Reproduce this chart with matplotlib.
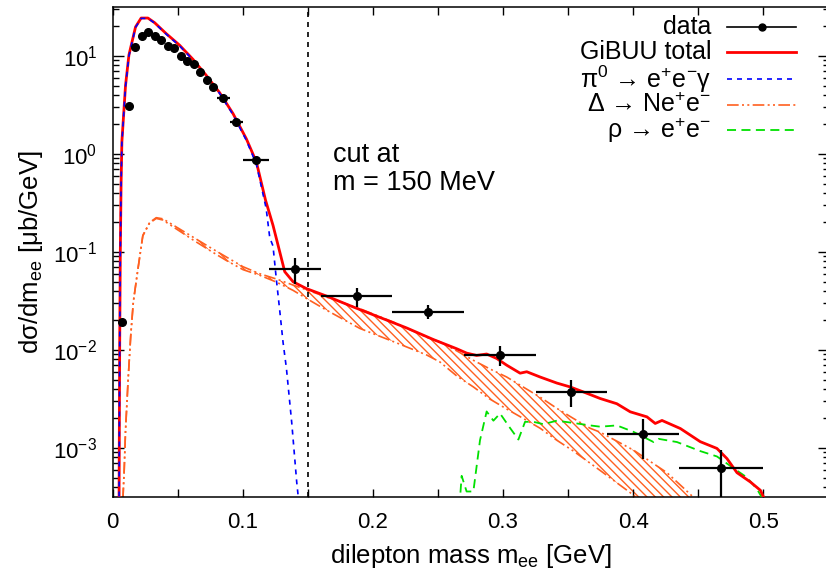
import numpy as np
import matplotlib
matplotlib.use("Agg")
import matplotlib.pyplot as plt
from matplotlib.ticker import MultipleLocator, LogLocator, LogFormatterMathtext, NullFormatter, FuncFormatter
from matplotlib.lines import Line2D

plt.rcParams['font.family'] = ['Liberation Sans', 'DejaVu Sans']
plt.rcParams['mathtext.default'] = 'regular'
plt.rcParams['hatch.linewidth'] = 1.0

# ---- measured spectrum ----
data_m = [0.0075, 0.0125, 0.0175, 0.0225, 0.0275, 0.0325, 0.0375, 0.0425, 0.0475,
          0.0525, 0.0575, 0.0625, 0.0675, 0.0725, 0.0775, 0.085, 0.095, 0.110,
          0.140, 0.1875, 0.2425, 0.2975, 0.3525, 0.4075, 0.4675]
data_y = [0.0194, 3.07, 12.4, 16.1, 17.6, 16.1, 14.7, 12.6, 12.0,
          10.1, 8.9, 8.3, 6.9, 5.65, 4.83, 3.76, 2.12, 0.863,
          0.0676, 0.0353, 0.0244, 0.00896, 0.00376, 0.00139, 0.00063]
data_xerr = [0.0025] * 15 + [0.005, 0.005, 0.010, 0.020, 0.0275, 0.0275, 0.0275, 0.0275, 0.0275, 0.0325]
data_yerr_lo = [0.0] * 18 + [0.0201, 0.0080, 0.0038, 0.0021, 0.00114, 0.00062, 0.00040]
data_yerr_hi = [0.0] * 18 + [0.0193, 0.0077, 0.0046, 0.0019, 0.00115, 0.00060, 0.00032]

# ---- GiBUU total ----
tot_m = [0.0050, 0.0055, 0.0060, 0.0066, 0.0072, 0.0100, 0.0126, 0.0177, 0.0220, 0.0272,
         0.0323, 0.0413, 0.0515, 0.0618, 0.0720, 0.0823, 0.0926, 0.1028, 0.1105, 0.1175,
         0.1233, 0.1285, 0.1323, 0.1387, 0.1490, 0.1644, 0.1849, 0.2054, 0.2259, 0.2464,
         0.2644, 0.2720, 0.2797, 0.2874, 0.2951, 0.3028, 0.3131, 0.3182, 0.3285, 0.3413,
         0.3515, 0.3618, 0.3746, 0.3874, 0.3977, 0.4105, 0.4169, 0.4221, 0.4362, 0.4515,
         0.4643, 0.4720, 0.4797, 0.4900, 0.4977, 0.5030]
tot_y = [2.0e-4, 0.01, 0.10, 0.50, 1.33, 5.0, 10.2, 19.8, 24.4, 24.4,
         21.9, 16.9, 12.9, 9.25, 6.35, 4.22, 2.58, 1.43, 0.83, 0.34,
         0.187, 0.100, 0.063, 0.0497, 0.0423, 0.0355, 0.0275, 0.0215, 0.0168, 0.0128,
         0.0103, 0.0093, 0.0088, 0.0091, 0.0082, 0.0070, 0.0058, 0.0060, 0.0053, 0.0046,
         0.0042, 0.00373, 0.0032, 0.00283, 0.00234, 0.00208, 0.00178, 0.00191, 0.00158, 0.00116,
         0.00099, 0.00078, 0.00056, 0.00045, 0.00037, 0.00026]

# ---- pi0 Dalitz ----
pi0_m = [0.0050, 0.0055, 0.0060, 0.0066, 0.0072, 0.0100, 0.0126, 0.0177, 0.0220, 0.0272,
         0.0323, 0.0413, 0.0515, 0.0618, 0.0720, 0.0823, 0.0926, 0.1028, 0.1105, 0.1180,
         0.1208, 0.1233, 0.1259, 0.1285, 0.1310, 0.1336, 0.1377, 0.1415, 0.1435]
pi0_y = [2.0e-4, 0.01, 0.10, 0.50, 1.30, 4.9, 10.0, 19.6, 24.2, 24.2,
         21.7, 16.7, 12.7, 9.1, 6.25, 4.15, 2.52, 1.38, 0.79, 0.28,
         0.14, 0.115, 0.052, 0.025, 0.012, 0.0065, 0.0018, 4.5e-4, 2.5e-4]

# ---- Delta Dalitz band (upper / lower) ----
dlt_m = [0.0080, 0.0090, 0.0100, 0.0120, 0.0140, 0.0160, 0.0195, 0.0233, 0.0285, 0.0336,
         0.0387, 0.0490, 0.0618, 0.0746, 0.0874, 0.1003, 0.1131, 0.1259, 0.1387, 0.1515,
         0.1644, 0.1900, 0.2156, 0.2413, 0.2515, 0.2644, 0.2772, 0.2900, 0.3028, 0.3156,
         0.3285, 0.3413, 0.3541, 0.3669, 0.3746, 0.4003, 0.4130, 0.4259, 0.4387, 0.4490]
dlt_hi = [3.0e-4, 6.0e-4, 1.5e-3, 5.0e-3, 0.014, 0.031, 0.067, 0.148, 0.200, 0.224,
          0.218, 0.180, 0.142, 0.112, 0.089, 0.0707, 0.060, 0.053, 0.046, 0.040,
          0.0347, 0.0264, 0.0193, 0.0135, 0.0121, 0.0098, 0.00785, 0.0064, 0.0053, 0.00418,
          0.0033, 0.00254, 0.0020, 0.00159, 0.00145, 9.5e-4, 7.3e-4, 5.6e-4, 3.9e-4, 2.9e-4]
dlt_lo = [3.0e-4, 6.0e-4, 1.5e-3, 5.0e-3, 0.014, 0.031, 0.066, 0.146, 0.197, 0.220,
          0.212, 0.172, 0.133, 0.104, 0.082, 0.066, 0.0579, 0.0493, 0.0406, 0.0321,
          0.0255, 0.0166, 0.0122, 0.0089, 0.00755, 0.00544, 0.0042, 0.00315, 0.0025, 0.0020,
          0.00159, 0.0012, 9.3e-4, 7.0e-4, 5.9e-4, 3.3e-4, 2.3e-4, 1.6e-4, 1.1e-4, 8.0e-5]

# ---- rho ----
rho_m = [0.2665, 0.2682, 0.2720, 0.2772, 0.2823, 0.2874, 0.2926, 0.2977, 0.3054, 0.3118,
         0.3169, 0.3233, 0.3310, 0.3413, 0.3541, 0.3669, 0.3746, 0.3874, 0.4003, 0.4156,
         0.4195, 0.4336, 0.4515, 0.4643, 0.4772, 0.4874, 0.4951, 0.5003]
rho_y = [2.5e-4, 5.2e-4, 3.6e-4, 3.6e-4, 1.2e-3, 2.36e-3, 1.9e-3, 2.25e-3, 1.6e-3, 1.22e-3,
         1.85e-3, 1.85e-3, 1.75e-3, 1.9e-3, 1.8e-3, 1.7e-3, 1.65e-3, 1.7e-3, 1.46e-3, 1.15e-3,
         1.24e-3, 1.15e-3, 9.3e-4, 8.2e-4, 6.2e-4, 5.0e-4, 3.8e-4, 2.9e-4]

m_cut = 0.150

RED = '#ff0000'
BLUE = '#0000ff'
ORANGE = '#ff6020'
GREEN = '#00e000'

W, H = 826, 578
fig = plt.figure(figsize=(W / 100, H / 100), dpi=100)
ax = fig.add_axes([112.5 / W, 1 - 497 / H, (828.5 - 112.5) / W, (497 - 7) / H])

ax.set_yscale('log')
ax.set_xlim(0, 0.55)
ax.set_ylim(10 ** -3.5, 10 ** 1.5)

# Delta band with hatching
ax.fill_between(dlt_m, dlt_lo, dlt_hi, facecolor='none', edgecolor=ORANGE,
                hatch='\\\\\\\\', linewidth=0, zorder=1)
dd = (0, (7, 2, 1.2, 2, 1.2, 2))
ax.plot(dlt_m, dlt_hi, color=ORANGE, lw=1.2, linestyle=dd, zorder=2)
ax.plot(dlt_m, dlt_lo, color=ORANGE, lw=1.2, linestyle=dd, zorder=2)

ax.plot(rho_m, rho_y, color=GREEN, lw=1.3, linestyle=(0, (5, 3)), zorder=3)
ax.plot(tot_m, tot_y, color=RED, lw=2.0, zorder=4)
ax.plot(pi0_m, pi0_y, color=BLUE, lw=1.2, linestyle=(0, (3, 3)), zorder=5)

ax.errorbar(data_m, data_y, xerr=data_xerr, yerr=[data_yerr_lo, data_yerr_hi],
            fmt='o', color='black', ms=5.5, elinewidth=1.6, capsize=0, zorder=6)

ax.axvline(m_cut, color='black', lw=1.2, linestyle=(0, (3, 3)), zorder=3)

ax.text(0.169, 10 ** (1 - (153 - 54) / 98), 'cut at', fontsize=19.5, va='center', ha='left')
ax.text(0.169, 10 ** (1 - (181 - 54) / 98), 'm = 150 MeV', fontsize=19.5, va='center', ha='left')

# axes styling
ax.xaxis.set_major_locator(MultipleLocator(0.1))
ax.xaxis.set_minor_locator(MultipleLocator(0.05))
ax.yaxis.set_major_locator(LogLocator(base=10, numticks=10))
ax.yaxis.set_minor_locator(LogLocator(base=10, subs=np.arange(2, 10), numticks=20))
ax.yaxis.set_major_formatter(LogFormatterMathtext())
ax.yaxis.set_minor_formatter(NullFormatter())
ax.xaxis.set_major_formatter(FuncFormatter(lambda v, p: '0' if abs(v) < 1e-9 else f'{v:g}'))
ax.tick_params(which='both', direction='in', top=True, right=True, labelsize=16, width=1.0)
ax.tick_params(axis='x', which='major', length=6, pad=11)
ax.tick_params(axis='x', which='minor', length=6)
ax.tick_params(axis='y', which='major', length=8, pad=11)
ax.tick_params(axis='y', which='minor', length=4)
for s in ax.spines.values():
    s.set_linewidth(1.1)

ax.set_xlabel('dilepton mass m$_{ee}$ [GeV]', fontsize=18.5, labelpad=6)
ax.set_ylabel('d\u03c3/dm$_{ee}$ [\u03bcb/GeV]', fontsize=18.5, labelpad=6)

# key
labels = ['data', 'GiBUU total', '\u03c0$^{0}$ \u2192 e$^{+}$e$^{-}$\u03b3',
          '\u0394 \u2192 Ne$^{+}$e$^{-}$', '\u03c1 \u2192 e$^{+}$e$^{-}$']
rows_px = [27, 52, 79, 105, 130]
tx = fig.transFigure
for lab, ypx in zip(labels, rows_px):
    fig.text(711 / W, 1 - ypx / H, lab, fontsize=18, ha='right', va='center')
styles = [dict(color='black', lw=1.2), dict(color=RED, lw=2.0),
          dict(color=BLUE, lw=1.2, linestyle=(0, (3, 3))),
          dict(color=ORANGE, lw=1.2, linestyle=dd),
          dict(color=GREEN, lw=1.3, linestyle=(0, (5, 3)))]
for st, ypx in zip(styles, rows_px):
    y = 1 - ypx / H
    fig.add_artist(Line2D([727 / W, 796 / W], [y, y], transform=tx, **st))
fig.add_artist(Line2D([761.5 / W], [1 - 27 / H], transform=tx, marker='o', ms=5, color='black'))

fig.savefig('out.png', dpi=100)
